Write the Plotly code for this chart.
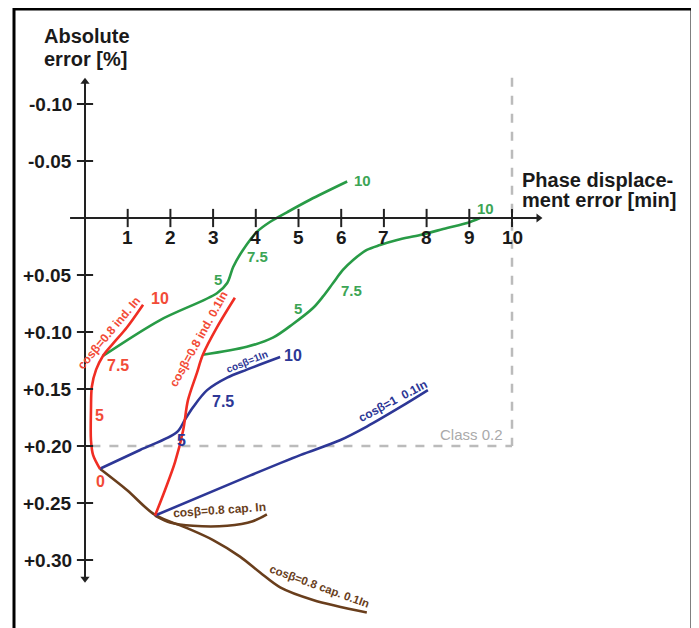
import plotly.graph_objects as go

# ---------------- data (x: phase displacement error [min], y: absolute error [%]) ----------------
ind_In_x = [0.35, 0.19, 0.14, 0.14, 0.16, 0.26, 0.42, 0.66, 0.98, 1.36]
ind_In_y = [0.220, 0.208, 0.195, 0.168, 0.148, 0.133, 0.121, 0.110, 0.096, 0.076]

ind_01In_x = [1.64, 1.87, 2.11, 2.30, 2.41, 2.62, 2.76, 3.09, 3.51]
ind_01In_y = [0.261, 0.239, 0.214, 0.186, 0.160, 0.136, 0.120, 0.096, 0.070]

green_a_x = [0.42, 1.76, 3.09, 3.33, 3.47, 3.70, 4.03, 4.33, 4.73, 5.27, 6.14]
green_a_y = [0.121, 0.0895, 0.066, 0.057, 0.043, 0.028, 0.012, 0.0035, -0.005, -0.016, -0.032]

green_b_x = [2.76, 3.79, 4.40, 4.87, 5.34, 5.57, 5.81, 6.04, 6.28, 6.60, 6.91, 7.31, 7.85, 8.48, 8.95, 9.25]
green_b_y = [0.120, 0.113, 0.105, 0.093, 0.079, 0.069, 0.057, 0.0456, 0.0368, 0.028, 0.0237,
             0.0193, 0.0149, 0.0088, 0.0044, 0.0]

cos1_In_x = [0.35, 1.29, 2.15, 2.34, 2.53, 2.86, 3.33, 3.79, 4.57]
cos1_In_y = [0.220, 0.2035, 0.188, 0.177, 0.166, 0.151, 0.140, 0.133, 0.122]

cos1_01In_x = [1.64, 3.86, 5.04, 5.97, 6.60, 7.38, 8.03]
cos1_01In_y = [0.261, 0.226, 0.208, 0.195, 0.183, 0.166, 0.151]

cap_In_x = [1.64, 1.99, 2.53, 3.33, 3.93, 4.26]
cap_In_y = [0.261, 0.267, 0.270, 0.270, 0.266, 0.260]

cap_01In_x = [0.35, 0.98, 1.64, 2.39, 3.00, 3.63, 4.10, 4.57, 5.34, 6.60]
cap_01In_y = [0.220, 0.2386, 0.2605, 0.272, 0.2825, 0.297, 0.311, 0.324, 0.335, 0.346]

x_ticks = [1, 2, 3, 4, 5, 6, 7, 8, 9, 10]
x_tick_labels = ["1", "2", "3", "4", "5", "6", "7", "8", "9", "10"]
y_ticks = [-0.10, -0.05, 0.05, 0.10, 0.15, 0.20, 0.25, 0.30]
y_tick_labels = ["-0.10", "-0.05", "+0.05", "+0.10", "+0.15", "+0.20", "+0.25", "+0.30"]

class_limit_x = 10
class_limit_y = 0.20

# load point labels (percent of rated current)
red_pt_labels = ["10", "7.5", "5", "0"]
red_pt_x = [1.76, 0.77, 0.35, 0.37]
red_pt_y = [0.071, 0.129, 0.173, 0.231]
green_a_labels = ["5", "7.5", "10"]
green_a_lx = [3.11, 4.05, 6.49]
green_a_ly = [0.054, 0.034, -0.033]
green_b_labels = ["5", "7.5", "10"]
green_b_lx = [4.99, 6.25, 9.39]
green_b_ly = [0.079, 0.064, -0.008]
blue_labels = ["5", "7.5", "10"]
blue_lx = [2.27, 3.23, 4.87]
blue_ly = [0.195, 0.161, 0.121]

# curve names and their positions along the curves
curve_names = ["cosβ=0.8 ind. In", "cosβ=0.8 ind. 0.1In", "cosβ=1In",
               "cosβ=1  0.1In", "cosβ=0.8 cap. In", "cosβ=0.8 cap. 0.1In"]
curve_name_x = [0.56, 2.66, 3.80, 7.21, 3.16, 5.48]
curve_name_y = [0.101, 0.106, 0.1255, 0.1605, 0.256, 0.323]
curve_name_angle = [-50, -61, -22, -28, -4, 20]

RED = "rgb(240,45,35)"
RED_T = "rgb(242,75,55)"
GREEN = "rgb(40,155,70)"
GREEN_T = "rgb(60,165,85)"
BLUE = "rgb(45,55,150)"
BROWN = "rgb(105,62,28)"
AX = "#222222"
FONT = "Liberation Sans, Arial, sans-serif"

# the page body adds an 8 px offset; the figure is laid out in screen pixels minus that offset
OFF = 8
W, H = 699 - OFF, 628 - OFF


def px_x(p):
    return (p - OFF) / W


def px_y(p):
    return 1 - (p - OFF) / H


fig = go.Figure()


def curve(x, y, color):
    fig.add_trace(go.Scatter(x=x, y=y, mode="lines",
                             line=dict(color=color, width=2.6, shape="spline", smoothing=0.9),
                             hoverinfo="skip", showlegend=False))


# class 0.2 dashed box
fig.add_shape(type="line", x0=0.15, x1=class_limit_x, y0=class_limit_y, y1=class_limit_y,
              line=dict(color="#bbbbbb", width=2.5, dash="dash"), layer="below")
fig.add_shape(type="line", x0=class_limit_x, x1=class_limit_x, y0=-0.123, y1=class_limit_y,
              line=dict(color="#bbbbbb", width=2.5, dash="dash"), layer="below")

curve(cap_01In_x, cap_01In_y, BROWN)
curve(cap_In_x, cap_In_y, BROWN)
curve(cos1_In_x, cos1_In_y, BLUE)
curve(cos1_01In_x, cos1_01In_y, BLUE)
curve(green_a_x, green_a_y, GREEN)
curve(green_b_x, green_b_y, GREEN)
curve(ind_In_x, ind_In_y, RED)
curve(ind_01In_x, ind_01In_y, RED)

# axes lines
fig.add_shape(type="line", x0=-0.35, x1=10.6, y0=0, y1=0, line=dict(color=AX, width=2))
fig.add_shape(type="line", x0=0, x1=0, y0=-0.119, y1=0.317, line=dict(color=AX, width=2))
for t in x_ticks:
    fig.add_shape(type="line", x0=t, x1=t, y0=-0.008, y1=0.008, line=dict(color=AX, width=2))
for t in y_ticks:
    fig.add_shape(type="line", x0=-0.19, x1=0.19, y0=t, y1=t, line=dict(color=AX, width=2))

# arrow heads
fig.add_trace(go.Scatter(x=[0, 10.62, 0], y=[-0.1195, 0, 0.3165], mode="markers",
                         marker=dict(symbol=["triangle-up", "triangle-right", "triangle-down"],
                                     size=8, color=AX),
                         hoverinfo="skip", showlegend=False))

ann = []
for t, lab in zip(x_ticks, x_tick_labels):
    ann.append(dict(x=t, y=0, text="<b>%s</b>" % lab, showarrow=False, yshift=-19,
                    xanchor="center", yanchor="middle",
                    font=dict(size=19, color="#1a1a1a", family=FONT)))
for t, lab in zip(y_ticks, y_tick_labels):
    ann.append(dict(x=0, y=t, text="<b>%s</b>" % lab, showarrow=False, xshift=-11,
                    xanchor="right", yanchor="middle",
                    font=dict(size=19, color="#1a1a1a", family=FONT)))


def label(x, y, text, color, size, angle=0):
    ann.append(dict(x=x, y=y, text="<b>%s</b>" % text, showarrow=False, textangle=angle,
                    xanchor="center", yanchor="middle",
                    font=dict(size=size, color=color, family=FONT)))


for lx, ly, t in zip(red_pt_x, red_pt_y, red_pt_labels):
    label(lx, ly, t, RED_T, 16)
for lx, ly, t in zip(green_a_lx, green_a_ly, green_a_labels):
    label(lx, ly, t, GREEN_T, 15)
for lx, ly, t in zip(green_b_lx, green_b_ly, green_b_labels):
    label(lx, ly, t, GREEN_T, 15)
for lx, ly, t in zip(blue_lx, blue_ly, blue_labels):
    label(lx, ly, t, BLUE, 16)

name_colors = [RED_T, RED_T, BLUE, BLUE, BROWN, BROWN]
name_sizes = [12, 12, 10, 12, 12, 11.5]
for n, nx, ny, a, c, s in zip(curve_names, curve_name_x, curve_name_y, curve_name_angle,
                              name_colors, name_sizes):
    label(nx, ny, n, c, s, a)

# axis titles
title_font = dict(size=20, color="#1a1a1a", family=FONT)
ann.append(dict(xref="paper", yref="paper", x=px_x(42), y=px_y(36), text="<b>Absolute</b>",
                showarrow=False, xanchor="left", yanchor="middle", font=title_font))
ann.append(dict(xref="paper", yref="paper", x=px_x(42), y=px_y(59), text="<b>error [%]</b>",
                showarrow=False, xanchor="left", yanchor="middle", font=title_font))
ann.append(dict(xref="paper", yref="paper", x=px_x(520), y=px_y(180),
                text="<b>Phase displace-</b>",
                showarrow=False, xanchor="left", yanchor="middle", font=title_font))
ann.append(dict(xref="paper", yref="paper", x=px_x(520), y=px_y(200),
                text="<b>ment error [min]</b>",
                showarrow=False, xanchor="left", yanchor="middle", font=title_font))
ann.append(dict(x=class_limit_x, y=class_limit_y, text="Class 0.2", showarrow=False,
                xanchor="right", yanchor="bottom", xshift=-7, yshift=1,
                font=dict(size=15, color="#aaaaaa", family=FONT)))

# outer frame (open at the bottom)
frame = dict(color="black", width=3)
fig.add_shape(type="line", xref="paper", yref="paper", x0=px_x(14), x1=px_x(14), y0=0, y1=1, line=frame)
fig.add_shape(type="line", xref="paper", yref="paper", x0=px_x(14), x1=px_x(692), y0=0.999, y1=0.999,
              line=dict(color="black", width=4))
fig.add_shape(type="line", xref="paper", yref="paper", x0=px_x(692), x1=px_x(692), y0=0, y1=1, line=frame)

px_per_x = 42.7
px_per_y = 1140.0
x0_px, y0_px = 85.0 - OFF, 218.0 - OFF
fig.update_layout(
    width=W, height=H,
    margin=dict(l=0, r=0, t=0, b=0),
    paper_bgcolor="white", plot_bgcolor="white",
    xaxis=dict(visible=False, range=[-x0_px / px_per_x, (W - x0_px) / px_per_x], fixedrange=True),
    yaxis=dict(visible=False, range=[(H - y0_px) / px_per_y, -y0_px / px_per_y], fixedrange=True),
    annotations=ann,
    showlegend=False,
)

fig.write_html("out.html")
